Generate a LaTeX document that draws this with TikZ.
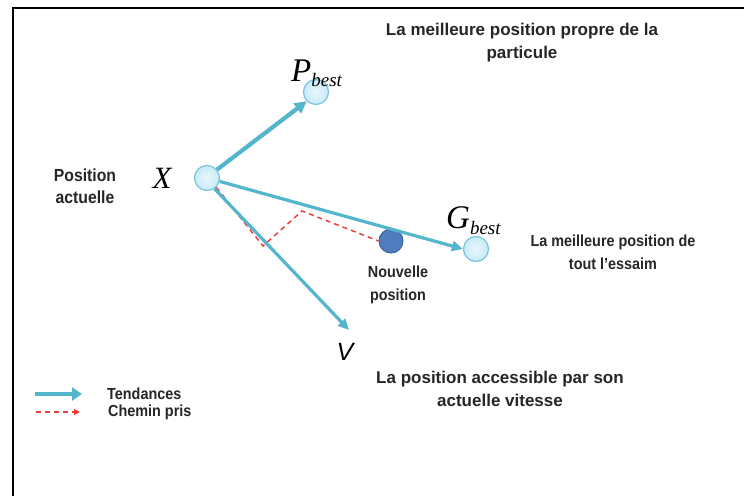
\documentclass[tikz,border=0pt]{standalone}
\usepackage{fontspec}
\setmainfont{Liberation Sans}
\newfontfamily\serf{Liberation Serif}
\newfontfamily\narrowsans[FakeStretch=0.9,Ligatures=TeX]{Liberation Sans}
\usetikzlibrary{arrows.meta}
\definecolor{tblue}{RGB}{84,182,204}
\definecolor{cfill}{RGB}{200,234,247}
\definecolor{cedge}{RGB}{120,196,222}
\definecolor{dfill}{RGB}{78,124,190}
\definecolor{dedge}{RGB}{60,100,160}
\definecolor{pred}{RGB}{232,64,58}
\tikzset{
  lbl/.style={font=\narrowsans\bfseries\fontsize{16}{23}\selectfont, align=center, text=black!85, inner sep=0pt},
  lblbig/.style={lbl, font=\bfseries\fontsize{17}{23}\selectfont},
  pt/.style={circle, draw=cedge, line width=1.2pt, inner color=white!60!cfill, outer color=cfill, minimum size=25pt, inner sep=0pt},
  ptd/.style={circle, draw=dedge, line width=1pt, fill=dfill, minimum size=24pt, inner sep=0pt},
  tend/.style={draw=tblue, line width=4.2pt, -{Triangle[length=12pt,width=12pt]}},
  tendt/.style={draw=tblue, line width=3.2pt},
  chem/.style={draw=pred, line width=1.5pt, dash pattern=on 5pt off 4pt},
  sym/.style={inner sep=0pt}
}
\begin{document}
\begin{tikzpicture}[x=1pt,y=-1pt]
\useasboundingbox (0,0) rectangle (744,496);
\fill[white] (0,0) rectangle (744,496);
\draw[line width=2.5pt] (13,496) -- (13,8) -- (744,8);

% points
\node[pt] (X) at (207,178) {};
\node[pt] (P) at (316,92) {};
\node[pt] (G) at (476,249) {};
\node[ptd] (N) at (391,241) {};
\coordinate (V) at (349,330);

% red dashed path
\coordinate (r1) at (263,246);
\coordinate (r2) at (302,211);
\draw[chem] (X.-45) -- (r1) -- (r2) -- (N.west);

% tendency arrows
\draw[tend] (X.40) -- (P.-135);
\draw[tendt, -{Triangle[length=11pt,width=10pt]}] (X.-15) -- (G.west);
\draw[tendt, -{Triangle[length=11pt,width=10pt]}] (X.-55) -- (V);

% symbols
\node[sym, anchor=base west] (Pl) at (291,81) {\serf\itshape\fontsize{33}{33}\selectfont P\kern0pt\raisebox{-5pt}{\fontsize{19}{19}\selectfont best}};
\node[sym] (Xl) at (162,178) {\serf\itshape\fontsize{31}{31}\selectfont X};
\node[sym, anchor=base west] (Gl) at (446,228) {\serf\itshape\fontsize{33}{33}\selectfont G\kern0pt\raisebox{-6pt}{\fontsize{19}{19}\selectfont best}};
\node[sym] (Vl) at (345,352) {\itshape\fontsize{25}{25}\selectfont V};

% labels
\node[lblbig] (t1) at (522,43) {La meilleure position propre de la\\particule};
\node[lbl, font=\narrowsans\bfseries\fontsize{17.5}{22}\selectfont] (t2) at (85,186) {Position\\actuelle};
\node[lbl] (t3) at (613,252) {La meilleure position de\\tout l’essaim};
\node[lbl] (t4) at (398,285) {Nouvelle\\position};
\node[lblbig] (t5) at (500,389) {La position accessible par son\\actuelle vitesse};

% legend
\coordinate (l1a) at (35,394);
\coordinate (l1b) at (82,394);
\draw[tend, line width=4.5pt, -{Triangle[length=10pt,width=13pt]}] (l1a) -- (l1b);
\node[lbl, anchor=west] (lt1) at (107,394) {Tendances};
\coordinate (l2a) at (36,412);
\coordinate (l2b) at (80,412);
\draw[chem, -{Triangle[length=6pt,width=6pt]}] (l2a) -- (l2b);
\node[lbl, anchor=west] (lt2) at (108,412) {Chemin pris};
\end{tikzpicture}
\end{document}
